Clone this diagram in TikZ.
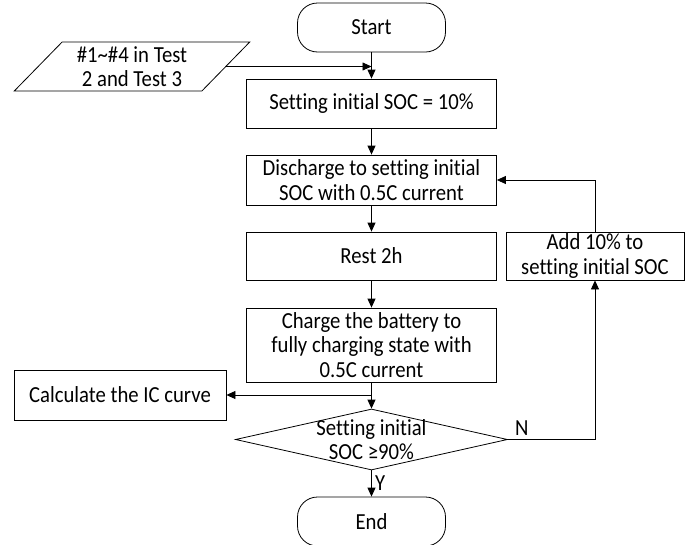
\documentclass[tikz,border=0pt]{standalone}
\usepackage{fontspec}
\setmainfont{Carlito}[Ligatures=NoCommon,FakeStretch=0.9]
\usepackage{tikz}
\usetikzlibrary{shapes.geometric,arrows.meta}

\begin{document}
\begin{tikzpicture}[x=1pt,y=-1pt,
  font=\fontsize{23}{24.5}\selectfont,
  line width=0.8pt, >={Triangle[length=9pt,width=8pt]},
  box/.style={draw,rectangle,align=center,inner sep=0pt,minimum width=250pt,minimum height=49pt},
  terminal/.style={draw,rectangle,rounded corners=20pt,minimum width=148pt,minimum height=49pt},
  io/.style={draw,trapezium,trapezium left angle=47,trapezium right angle=133,trapezium stretches=true,align=center,inner sep=0pt,minimum width=236pt,minimum height=49pt},
  decision/.style={draw,diamond,inner sep=0pt,minimum width=272pt,minimum height=61pt}]
  \useasboundingbox (0,0) rectangle (694,544);
  \node[terminal] (start) at (371.5,27.5) {Start};
  \node[io] (input) at (132,66.5) {\#1\textasciitilde\#4 in Test\\2 and Test 3};
  \node[box] (set) at (371.5,103.5) {Setting initial SOC = 10\%};
  \node[box,minimum height=50pt] (dis) at (371.5,180) {Discharge to setting initial\\SOC with 0.5C current};
  \node[box,minimum height=48pt] (rest) at (371.5,256) {Rest 2h};
  \node[box,minimum height=74pt] (chg) at (371.5,345) {Charge the battery to\\fully charging state with\\0.5C current};
  \node[box,minimum width=212pt,minimum height=50pt] (calc) at (120,395) {Calculate the IC curve};
  \node[decision] (dec) at (371.5,439.5) {};
  \node[align=center] (dectxt) at (dec.center) {Setting initial\\SOC ≥90\%};
  \node[terminal] (end) at (371.5,521.5) {End};
  \node[box,minimum width=178pt,minimum height=48pt] (add) at (595,256) {Add 10\% to\\setting initial SOC};
  % main flow
  \draw[->] (start) -- (set);
  \draw[->] (input.east) -- (input.east -| set.north);
  \draw[->] (set) -- (dis);
  \draw[->] (dis) -- (rest);
  \draw[->] (rest) -- (chg);
  \draw[->] (chg) -- (dec);
  \draw[->] (chg.south |- calc.east) -- (calc);
  \draw[->] (dec) -- node[right] {Y} (end);
  % loop back
  \draw[->] (dec.east) -- node[above,pos=0.16] {N} (dec.east -| add.south) -- (add);
  \draw[->] (add) |- (dis);
\end{tikzpicture}
\end{document}
